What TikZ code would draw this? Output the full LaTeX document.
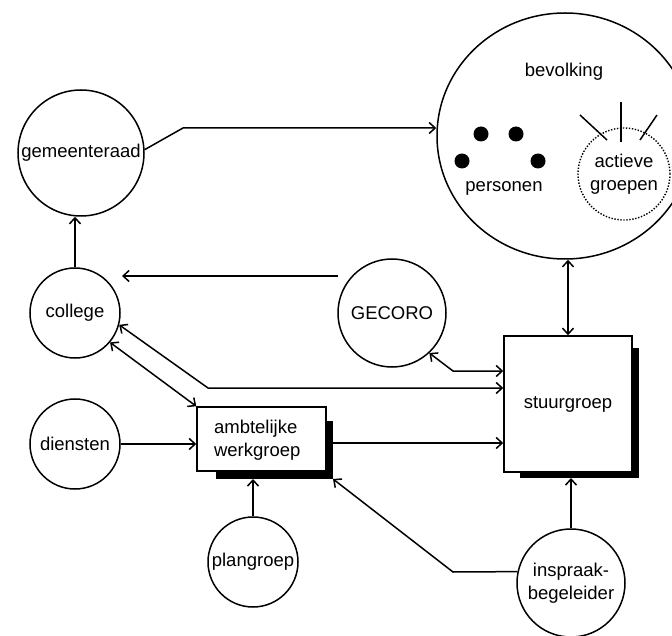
\documentclass[tikz,border=0pt]{standalone}
\usepackage{fontspec}
\setmainfont{Liberation Sans}
\usetikzlibrary{arrows.meta,shapes.geometric}
\begin{document}
\begin{tikzpicture}[x=1pt,y=-1pt,
  line width=1.5pt,
  arr/.style={-{Straight Barb[length=6pt,width=11pt]}},
  barr/.style={{Straight Barb[length=6pt,width=11pt]}-{Straight Barb[length=6pt,width=11pt]}},
  circ/.style={draw,circle,inner sep=0pt,minimum size=#1},
  lbl/.style={font=\fontsize{18.5}{22.5}\selectfont, align=center},
  shadowbar/.style={fill=black,draw=none},
  dot/.style={fill=black}]
\useasboundingbox (0,0) rectangle (672,636);
% circles
\node[circ=126pt, lbl] (gem) at (81,153) {gemeenteraad};
\node[circ=90pt, lbl] (col) at (75,313) {college};
\node[circ=90pt, lbl] (dien) at (75,444) {diensten};
\node[circ=108pt, lbl] (gec) at (392,313) {GECORO};
\node[circ=90pt, lbl] (plan) at (253,562) {plangroep};
\node[circ=108pt, lbl] (insp) at (571,583) {inspraak-\\begeleider};
% bevolking
\node[draw, ellipse, minimum width=256pt, minimum height=246pt, inner sep=0pt] (bev) at (565,136) {};
\node[lbl] (bevt) at (564,72) {bevolking};
\fill[dot] (481,134) circle[radius=7.5pt];
\fill[dot] (516,134) circle[radius=7.5pt];
\fill[dot] (462,161) circle[radius=7.5pt];
\fill[dot] (538,161) circle[radius=7.5pt];
\node[lbl] (pers) at (504,188) {personen};
\node[circ=92pt, lbl, dash pattern=on 1.4pt off 1.6pt, line width=1.4pt] (act) at (624,174) {actieve\\groepen};
\draw (580,115) -- (607,140);
\draw (621,102) -- (621,142);
\draw (657,115) -- (640,140);
% ambtelijke werkgroep
\fill[shadowbar] (326,421) rectangle (333,479);
\fill[shadowbar] (216,471) rectangle (333,479);
\node[draw, fill=white, minimum width=129pt, minimum height=64pt, inner sep=0pt] (amb) at (261.5,439) {};
\node[lbl, align=left, anchor=west] (ambt) at (210,440) {ambtelijke\\werkgroep};
% stuurgroep
\fill[shadowbar] (632,348) rectangle (639,478);
\fill[shadowbar] (520,472) rectangle (639,478);
\node[draw, fill=white, minimum width=128pt, minimum height=136pt, inner sep=0pt, lbl] (stu) at (568,404) {stuurgroep};
% connectors
\coordinate (g1) at (183,128);
\draw[arr] (gem.3) -- (g1) -- (g1 -| bev.west);
\draw[arr] (col.north) -- (col.north |- gem.south);
\coordinate (gs) at (338,276);
\coordinate (ge) at (122,276);
\draw[arr] (gs) -- (ge);
\coordinate (c1) at (208,388);
\draw[barr] (col.-15) -- (c1) -- (c1 -| stu.west);
\draw[barr] (col.-40) -- (amb.north west);
\draw[arr] (dien.east) -- (dien.east -| amb.west);
\coordinate (a1) at (333,443);
\draw[arr] (a1) -- (a1 -| stu.west);
\coordinate (g2) at (453,371);
\draw[barr] (gec.-47) -- (g2) -- (g2 -| stu.west);
\draw[barr] (stu.north) -- (stu.north |- bev.south);
\coordinate (ps) at (253,479);
\draw[arr] (plan.north) -- (ps);
\coordinate (is) at (573,478);
\draw[arr] (insp.north) -- (insp.north |- is);
\coordinate (i1) at (453,572);
\coordinate (ac) at (333,479);
\draw[arr] (insp.168) -- (i1) -- (ac);
\end{tikzpicture}
\end{document}
